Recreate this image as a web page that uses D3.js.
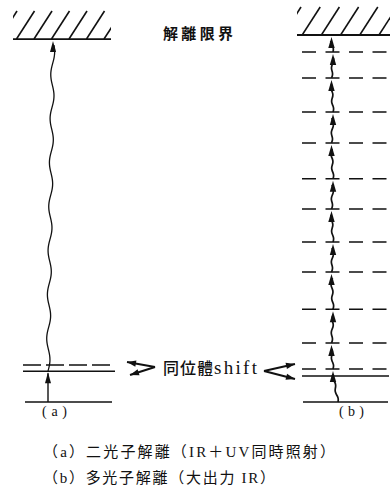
<!DOCTYPE html>
<html><head><meta charset="utf-8">
<script src="https://cdn.jsdelivr.net/npm/d3@7"></script>
<style>body{margin:0;background:#fff}svg{display:block}</style>
</head><body>
<script>
// ---- data (energy in arbitrary units, ground = 0) ----
const limitA = 98.9;                 // dissociation limit, panel (a)
const limitB = 100;                  // dissociation limit, panel (b)
const levelsA = [8.4, 10.1];         // excited level, isotope-shifted level
const stylesA = ["solid", "dashed"];
const levelsB = [7.1, 9.0, 16.1, 25.3, 35.4, 43.6, 52.6, 60.8, 70.6, 79.0, 88.3, 95.4];
const stylesB = ["solid", "dashed", "dashed", "dashed", "dashed", "dashed", "dashed",
                 "dashed", "dashed", "dashed", "dashed", "dashed"];
const stepsB = [9.0, 16.1, 25.3, 35.4, 43.6, 52.6, 60.8, 70.6, 79.0, 88.3, 95.4, 100];
const panelLabels = ["(a)", "(b)"];
const topLabel = "解離限界";
const shiftLabel = ["同位體", "shift"];
const captions = ["（a）二光子解離（IR＋UV同時照射）", "（b）多光子解離（大出力 IR）"];

const W = 390, H = 493;
const svg = d3.select("body").append("svg").attr("width", W).attr("height", H);
const y = d3.scaleLinear().domain([0, 100]).range([402, 35]);
const ink = "#111";
const cjk = "'Noto Sans CJK JP','Noto Sans CJK SC',sans-serif";
const serif = "'Liberation Serif','Noto Sans CJK JP',serif";

const panelA = {x0: 23, x1: 115, gx0: 25, gx1: 112, hx0: 13, hx1: 111, hs: 17.5};
const panelB = {x0: 302, x1: 389, gx0: 303, gx1: 388, hx0: 297, hx1: 390, hs: 19.2};

function hatch(p, limit, id) {
  const base = y(limit), top = base - 28;
  svg.append("clipPath").attr("id", id).append("rect")
    .attr("x", p.hx0).attr("y", top - 2).attr("width", p.hx1 - p.hx0).attr("height", base - top + 2);
  const g = svg.append("g").attr("clip-path", `url(#${id})`);
  const starts = d3.range(p.hx0 - 16, p.hx1 + 2, p.hs);
  g.selectAll("line").data(starts).join("line")
    .attr("x1", d => d + 2).attr("y1", base).attr("x2", d => d + 20).attr("y2", top)
    .attr("stroke", ink).attr("stroke-width", 1.6);
  svg.append("line").attr("x1", p.hx0).attr("x2", p.hx1).attr("y1", base).attr("y2", base)
    .attr("stroke", ink).attr("stroke-width", 1.8);
}
hatch(panelA, limitA, "ha");
hatch(panelB, limitB, "hb");

// ground lines
[panelA, panelB].forEach(p => {
  svg.append("line").attr("x1", p.gx0).attr("x2", p.gx1).attr("y1", y(0)).attr("y2", y(0))
    .attr("stroke", ink).attr("stroke-width", 1.5);
});

// levels
function levels(p, vals, styles, dash) {
  svg.append("g").selectAll("line").data(vals).join("line")
    .attr("x1", p.x0).attr("x2", p.x1)
    .attr("y1", d => y(d)).attr("y2", d => y(d))
    .attr("stroke", ink).attr("stroke-width", 1.5)
    .attr("stroke-dasharray", (d, i) => styles[i] === "dashed" ? dash : null);
}
levels(panelA, levelsA, stylesA, "18,5");
levels(panelB, levelsB, stylesB, "14,9.5");

// arrowhead
function head(xTip, yTip, len = 10, w = 2.8) {
  svg.append("path")
    .attr("d", `M${xTip},${yTip} L${xTip - w},${yTip + len} L${xTip + w},${yTip + len} Z`)
    .attr("fill", ink);
}
// wavy vertical path
function wavy(xb, yb, xt, yt, amp, period, sw) {
  const n = Math.max(2, Math.round((yb - yt) / 2));
  const pts = d3.range(n + 1).map(i => {
    const t = i / n;
    const yy = yb + (yt - yb) * t;
    const xx = xb + (xt - xb) * t + amp * Math.sin((yb - yy) / period * 2 * Math.PI);
    return [xx, yy];
  });
  svg.append("path").attr("d", d3.line().curve(d3.curveBasis)(pts))
    .attr("fill", "none").attr("stroke", ink).attr("stroke-width", sw);
}

// panel (a) transitions
svg.append("line").attr("x1", 48).attr("x2", 48).attr("y1", y(0)).attr("y2", y(levelsA[0]) + 2)
  .attr("stroke", ink).attr("stroke-width", 1.4);
head(48, y(levelsA[0]) + 1, 11, 3);
wavy(48, y(levelsA[0]), 53, y(limitA) + 6, 1.8, 44, 1.3);
head(53, y(limitA) + 2, 11, 3);

// panel (b) stepwise transitions
let prev = 0;
stepsB.forEach((e, i) => {
  const xb = i === 0 ? 338 : 332 + (i % 2 ? 1 : -0.5);
  const xt = 332 + (i % 2 ? -0.5 : 1);
  wavy(xb, y(prev), xt, y(e) + 6, 0.9, 14, 1.7);
  head(xt, y(e) + 2, 11, 3.2);
  prev = e;
});

// label texts
svg.append("text").attr("x", 163).attr("y", 39).text(topLabel)
  .attr("font-family", cjk).attr("font-size", 15).attr("font-weight", 600)
  .attr("textLength", 70).attr("lengthAdjust", "spacing").attr("fill", ink);

const st = svg.append("text").attr("y", 374).attr("fill", ink);
st.append("tspan").attr("x", 163).text(shiftLabel[0]).attr("font-family", cjk).attr("font-size", 16)
  .attr("font-weight", 500).attr("textLength", 50).attr("lengthAdjust", "spacing");
st.append("tspan").attr("x", 214).text(shiftLabel[1]).attr("font-family", serif).attr("font-size", 19)
  .attr("textLength", 43).attr("lengthAdjust", "spacing");

// shift pointers
function pointer(ax, ay, tx, ty) {
  svg.append("line").attr("x1", ax).attr("y1", ay).attr("x2", tx).attr("y2", ty)
    .attr("stroke", ink).attr("stroke-width", 2);
  const ang = Math.atan2(ty - ay, tx - ax);
  const L = 9, w = 3.2;
  const bx = tx - L * Math.cos(ang), by = ty - L * Math.sin(ang);
  const nx = -Math.sin(ang) * w, ny = Math.cos(ang) * w;
  svg.append("path").attr("d", `M${tx},${ty} L${bx + nx},${by + ny} L${bx - nx},${by - ny} Z`).attr("fill", ink);
}
pointer(155, 367, 127, 362);
pointer(155, 367, 130, 375);
pointer(264, 371, 295, 364);
pointer(264, 371, 295, 379);

// panel labels
svg.selectAll("text.pl").data(panelLabels).join("text").attr("class", "pl")
  .attr("x", (d, i) => i === 0 ? 42 : 339).attr("y", 416)
  .attr("font-family", serif).attr("font-size", 14).attr("fill", ink)
  .attr("textLength", 25).attr("lengthAdjust", "spacing").text(d => d);

// captions
const capLen = [292, 232];
svg.selectAll("text.cap").data(captions).join("text").attr("class", "cap")
  .attr("x", 43).attr("y", (d, i) => 457 + i * 26)
  .attr("font-family", serif).attr("font-size", 15)
  .attr("textLength", (d, i) => capLen[i]).attr("lengthAdjust", "spacing")
  .attr("fill", ink).text(d => d);
</script>
</body></html>
